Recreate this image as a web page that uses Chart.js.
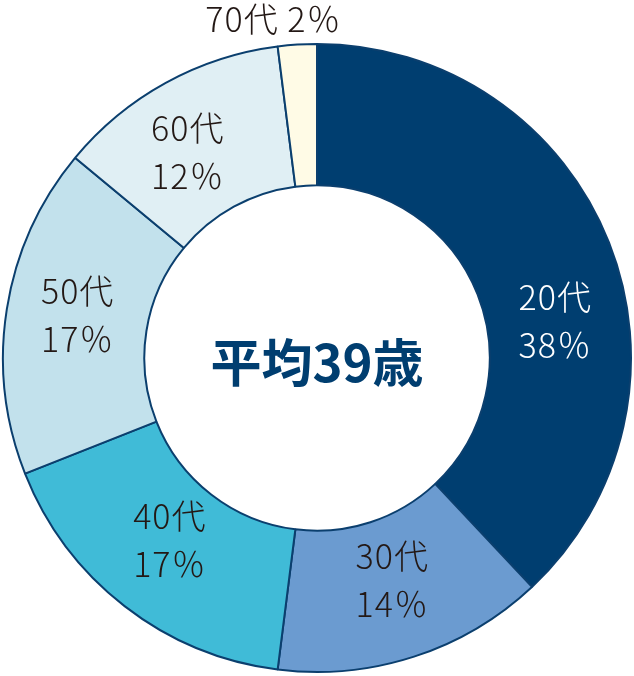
<!DOCTYPE html>
<html>
<head>
<meta charset="utf-8">
<script src="https://cdn.jsdelivr.net/npm/chart.js@4"></script>
<style>
  html, body { margin: 0; padding: 0; background: #fff; }
  #wrap { width: 634px; height: 676px; position: relative; }
</style>
</head>
<body>
<div id="wrap"><canvas id="pie"></canvas></div>
<script>
const ageGroups = ['20代', '30代', '40代', '50代', '60代', '70代'];
const shares = [38, 14, 17, 17, 12, 2];
const sliceColors = ['#003e70', '#6b9bd0', '#40bbd7', '#c2e1ec', '#e0eff4', '#fffbe6'];
const labelColors = ['#ffffff', '#231815', '#231815', '#231815', '#231815', '#231815'];
const centerText = '平均39歳';

// hand nudges so the labels sit where the original puts them
const labelNudge = [[12, 53], [0, -9], [2, -10], [1, -5], [-12, 7], [-22, 4]];

const sliceLabelPlugin = {
  id: 'sliceLabelPlugin',
  afterDatasetsDraw(chart) {
    const { ctx } = chart;
    const meta = chart.getDatasetMeta(0);
    ctx.save();
    ctx.font = '300 34px "Noto Sans CJK JP"';
    ctx.letterSpacing = '1px';
    ctx.textAlign = 'center';
    ctx.textBaseline = 'middle';

    meta.data.forEach((arc, i) => {
      const p = arc.getProps(['x', 'y', 'startAngle', 'endAngle', 'innerRadius', 'outerRadius'], true);
      const mid = (p.startAngle + p.endAngle) / 2;
      const small = shares[i] < 5;
      // small slice: label goes outside the ring on one line
      const r = small ? p.outerRadius + 30 : (p.innerRadius + p.outerRadius) / 2;
      const x = p.x + Math.cos(mid) * r + labelNudge[i][0];
      const y = p.y + Math.sin(mid) * r + labelNudge[i][1];
      ctx.fillStyle = labelColors[i];
      if (small) {
        ctx.fillText(`${ageGroups[i]} ${shares[i]}％`, x, y);
      } else {
        ctx.fillText(ageGroups[i], x, y - 24);
        ctx.fillText(`${shares[i]}％`, x, y + 24);
      }
    });

    // average age in the hole
    ctx.letterSpacing = '0px';
    ctx.font = 'bold 51px "Noto Sans CJK JP"';
    ctx.fillStyle = '#003e70';
    ctx.fillText(centerText, meta.data[0].x, meta.data[0].y + 5);
    ctx.restore();
  }
};

new Chart(document.getElementById('pie'), {
  type: 'doughnut',
  data: {
    labels: ageGroups,
    datasets: [{
      data: shares,
      backgroundColor: sliceColors,
      borderColor: '#0b3f6e',
      borderWidth: 2
    }]
  },
  options: {
    responsive: true,
    maintainAspectRatio: false,
    animation: false,
    cutout: '55%',
    layout: { padding: { top: 43, bottom: 3 } },
    plugins: {
      legend: { display: false },
      tooltip: { enabled: false }
    }
  },
  plugins: [sliceLabelPlugin]
});
</script>
</body>
</html>
